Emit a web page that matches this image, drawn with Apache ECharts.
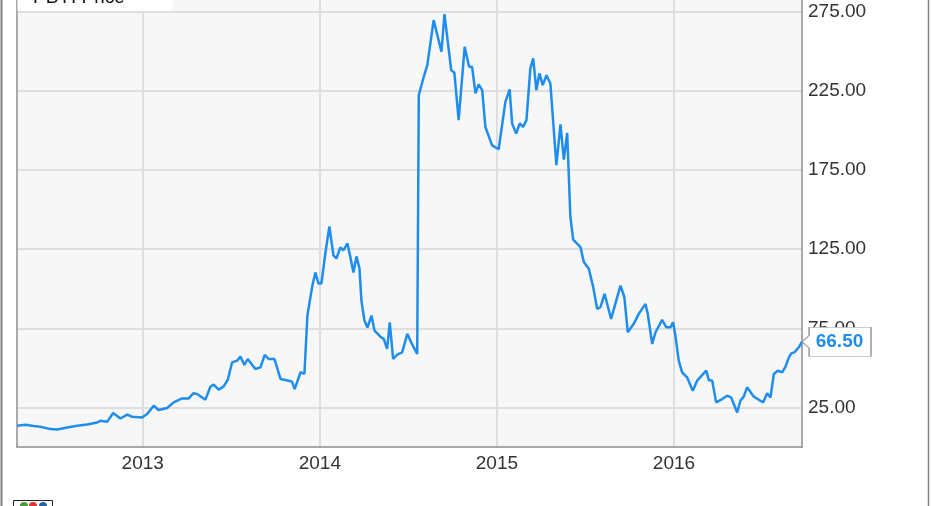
<!DOCTYPE html>
<html><head><meta charset="utf-8">
<script src="https://cdn.jsdelivr.net/npm/echarts@6/dist/echarts.min.js"></script>
<style>html,body{margin:0;padding:0;background:#fff}#c{width:931px;height:506px}</style>
</head><body><div id="c"></div>
<script>
// Dates as decimal years, values in USD
const years = [2012.291,2012.338,2012.383,2012.422,2012.479,2012.517,2012.573,2012.630,2012.686,2012.743,
2012.761,2012.799,2012.833,2012.874,2012.912,2012.940,2012.997,2013.025,2013.062,2013.090,
2013.138,2013.175,2013.222,2013.260,2013.285,2013.307,2013.354,2013.382,2013.401,2013.429,
2013.457,2013.480,2013.505,2013.533,2013.552,2013.574,2013.593,2013.636,2013.665,2013.689,
2013.711,2013.744,2013.778,2013.824,2013.843,2013.858,2013.891,2013.913,2013.930,2013.958,
2013.975,2013.992,2014.009,2014.032,2014.054,2014.077,2014.094,2014.116,2014.133,2014.156,
2014.173,2014.190,2014.207,2014.224,2014.235,2014.252,2014.269,2014.292,2014.309,2014.342,
2014.361,2014.380,2014.395,2014.414,2014.437,2014.465,2014.494,2014.516,2014.550,2014.559,
2014.587,2014.607,2014.643,2014.687,2014.704,2014.742,2014.760,2014.784,2014.818,2014.843,
2014.860,2014.879,2014.897,2014.917,2014.935,2014.973,2015.010,2015.048,2015.072,2015.086,
2015.109,2015.129,2015.148,2015.167,2015.189,2015.205,2015.223,2015.240,2015.259,2015.280,
2015.302,2015.336,2015.359,2015.378,2015.397,2015.415,2015.431,2015.472,2015.491,2015.519,
2015.544,2015.566,2015.585,2015.608,2015.645,2015.698,2015.720,2015.739,2015.773,2015.801,
2015.839,2015.852,2015.877,2015.896,2015.933,2015.957,2015.980,2015.995,2016.008,2016.027,
2016.046,2016.074,2016.106,2016.131,2016.182,2016.197,2016.216,2016.238,2016.272,2016.300,
2016.323,2016.357,2016.375,2016.394,2016.413,2016.451,2016.488,2016.504,2016.526,2016.545,
2016.564,2016.586,2016.611,2016.630,2016.649,2016.664,2016.680,2016.705,2016.723];
const prices = [13.4,14.0,13.2,12.8,11.3,11.1,12.3,13.4,14.2,15.5,
16.6,15.9,21.5,18.0,20.4,19.1,18.7,20.8,26.1,23.4,
24.6,28.2,30.7,30.7,33.9,33.5,29.9,38.1,39.4,36.2,
38.3,42.3,53.5,54.6,57.1,51.8,55.6,49.3,50.3,58.2,
55.6,55.6,43.0,41.9,41.3,36.6,47.2,46.3,83.0,102.0,
110.3,103.3,103.3,122.9,139.4,121.0,119.1,126.1,124.2,128.6,
119.7,110.3,120.4,112.8,92.5,79.9,75.5,83.0,73.5,69.7,
68.3,62.0,78.8,55.6,58.4,59.8,71.5,66.1,58.8,222.3,
233.9,241.3,269.7,249.7,273.5,238.1,236.4,206.5,252.8,240.2,
240.2,223.4,229.1,225.4,202.2,190.6,188.1,218.0,225.9,204.4,
198.0,204.4,202.2,206.5,239.2,245.5,225.4,236.0,228.6,234.9,
229.7,178.0,203.9,181.6,198.4,145.3,131.0,126.3,116.8,112.6,
101.0,87.3,88.3,96.8,80.9,102.0,94.6,72.5,77.8,84.1,
90.4,84.1,65.1,72.5,80.3,75.6,75.6,78.8,70.4,54.6,
47.2,44.0,35.6,41.9,48.2,42.3,41.9,28.2,30.3,32.4,
31.3,21.8,29.2,31.8,37.7,31.8,29.2,28.2,33.9,31.3,
46.1,48.2,47.2,50.8,56.6,59.3,59.8,63.0,66.5];
const xTickYears = [2013, 2014, 2015, 2016];
const yTickValues = [25, 75, 125, 175, 225, 275];
const seriesName = 'PBYI Price';

const lastIdx = prices.length - 1;
const lineColor = '#1f8ded';
const borderColor = '#8f8f8f';
const font = '"Liberation Sans", Arial, sans-serif';
const chart = echarts.init(document.getElementById('c'), null, {renderer: 'canvas'});
chart.setOption({
  animation: false,
  backgroundColor: '#ffffff',
  grid: {left: 17, right: 129, top: 0, bottom: 59, show: true,
         backgroundColor: '#f7f7f7', borderWidth: 0},
  xAxis: {
    type: 'value', min: 2012.29, max: 2016.723,
    axisLine: {show: true, onZero: false, lineStyle: {color: borderColor, width: 1.5}},
    axisTick: {show: false, customValues: xTickYears},
    axisLabel: {customValues: xTickYears, formatter: v => String(Math.round(v)),
                fontSize: 19, color: '#333', margin: 7, fontFamily: font},
    splitLine: {show: true, lineStyle: {color: '#dedede', width: 2}}
  },
  yAxis: [{
    type: 'value', position: 'right', min: 0, max: 282.4,
    axisLine: {show: true, lineStyle: {color: borderColor, width: 1.5}},
    axisTick: {show: false, customValues: yTickValues},
    axisLabel: {customValues: yTickValues, formatter: v => v.toFixed(2),
                fontSize: 19, color: '#333', margin: 6, fontFamily: font},
    splitLine: {show: true, lineStyle: {color: '#dedede', width: 2}}
  }, {
    type: 'value', position: 'left', min: 0, max: 282.4,
    axisLine: {show: true, lineStyle: {color: borderColor, width: 1.5}},
    axisTick: {show: false}, axisLabel: {show: false}, splitLine: {show: false}
  }],
  series: [{
    name: seriesName, type: 'line', showSymbol: false, smooth: false,
    data: years.map((y, i) => [y, prices[i]]),
    lineStyle: {color: lineColor, width: 2.5},
    itemStyle: {color: lineColor},
    markPoint: {
      symbol: 'path://M0,14L7,8L7,0L68,0L68,28L7,28L7,20Z',
      symbolSize: [69, 29], symbolOffset: [34.5, 0],
      itemStyle: {color: '#ffffff', borderColor: '#9a9a9a', borderWidth: 1},
      label: {show: true, position: 'inside', offset: [3, 0], color: lineColor,
              fontWeight: 'bold', fontSize: 19, fontFamily: font,
              formatter: p => Number(p.value).toFixed(2)},
      data: [{coord: [years[lastIdx], prices[lastIdx]], value: prices[lastIdx]}]
    }
  }],
  graphic: [
    {type: 'line', shape: {x1: 1.5, y1: 0, x2: 1.5, y2: 506}, style: {stroke: '#808080', lineWidth: 2}, z: 100},
    {type: 'line', shape: {x1: 928.5, y1: 0, x2: 928.5, y2: 506}, style: {stroke: '#808080', lineWidth: 1.5}, z: 100},
    {type: 'rect', shape: {x: 17.5, y: -25, width: 155, height: 36}, style: {fill: '#ffffff'}, z: 100},
    {type: 'text', x: 33, y: 7, style: {text: seriesName, fontSize: 19, fill: '#111', fontFamily: font, textVerticalAlign: 'bottom'}, z: 101},
    {type: 'rect', shape: {x: 13.5, y: 500.5, width: 39, height: 10}, style: {fill: '#ffffff', stroke: '#222', lineWidth: 1}, z: 100},
    {type: 'circle', shape: {cx: 24, cy: 506, r: 4}, style: {fill: '#4a9a3a'}, z: 101},
    {type: 'circle', shape: {cx: 33, cy: 506, r: 4}, style: {fill: '#d33'}, z: 101},
    {type: 'circle', shape: {cx: 43, cy: 506, r: 4}, style: {fill: '#2a5fb0'}, z: 101}
  ]
});
</script></body></html>
